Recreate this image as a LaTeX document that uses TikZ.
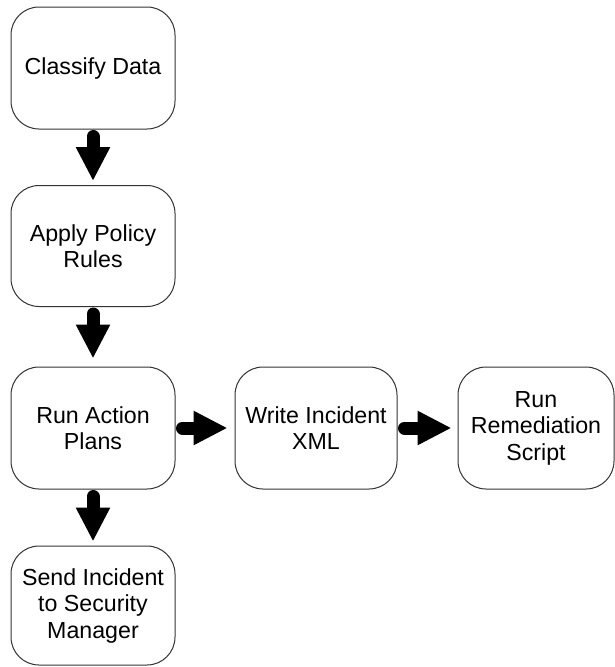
\documentclass[tikz,border=0pt]{standalone}
\usepackage{fontspec}
\setmainfont{Liberation Sans}
\usetikzlibrary{arrows.meta}
\begin{document}
\begin{tikzpicture}[x=1pt,y=-1pt,
  box/.style={draw=black!80, line width=1pt, rounded corners=28pt, fill=white,
    align=center, inner sep=0pt, font=\fontsize{23.2}{26.5}\selectfont},
  bigarrow/.style={line width=13pt, line cap=round,
    -{Triangle[width=32pt,length=34pt]}}]
\useasboundingbox (0,0) rectangle (615,667);
\node[box, minimum width=164pt, minimum height=122pt] (c) at (93,68) {Classify Data};
\node[box, minimum width=164pt, minimum height=121pt] (ap) at (93,246) {Apply Policy\\Rules};
\node[box, minimum width=164pt, minimum height=122pt] (ra) at (93,428) {Run Action\\Plans};
\node[box, minimum width=164pt, minimum height=119pt] (si) at (93,605.5) {Send Incident\\to Security\\Manager};
\node[box, minimum width=162pt, minimum height=122pt] (wi) at (316,428) {Write Incident\\XML};
\node[box, minimum width=156pt, minimum height=122pt] (rr) at (536,428) {Run\\Remediation\\Script};
\draw[bigarrow] ([yshift=-7pt]c.south) -- ([yshift=4pt]ap.north);
\draw[bigarrow] ([yshift=-7pt]ap.south) -- ([yshift=8pt]ra.north);
\draw[bigarrow] ([yshift=-7pt]ra.south) -- ([yshift=4pt]si.north);
\draw[bigarrow] ([xshift=7pt]ra.east) -- ([xshift=-7pt]wi.west);
\draw[bigarrow] ([xshift=7pt]wi.east) -- ([xshift=-6pt]rr.west);
\end{tikzpicture}
\end{document}
